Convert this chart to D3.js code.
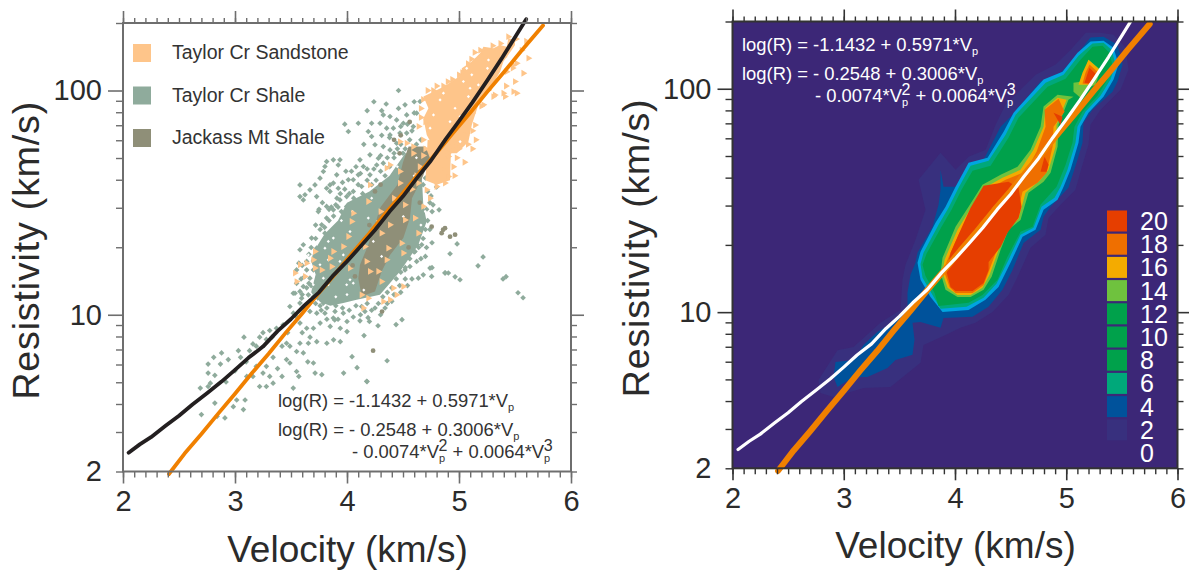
<!DOCTYPE html>
<html>
<head>
<meta charset="utf-8">
<script src="https://cdn.jsdelivr.net/npm/d3@7"></script>
<style>
  body { margin: 0; background: #fff; }
  text { font-family: "Liberation Sans", Arial, sans-serif; }
</style>
</head>
<body>
<svg id="chart" width="1189" height="570"></svg>
<script>
// all points are [velocity km/s, log10 resistivity]

const shalePoints = [
  // lower tail
  [2.81,.81],[2.88,.83],[2.76,.78],[2.87,.78],[2.76,.74],[2.82,.73],[2.94,.80],[3.03,.84],[3.05,.81],[3.13,.84],[3.19,.86],[3.28,.89],[3.31,.93],[3.37,.94],[3.43,.955],[3.58,.963],[3.64,.94],[3.70,.94],[3.76,.963],[3.55,.99],
  [3.46,.873],[3.42,.86],[3.49,.86],[3.58,.873],[3.655,.873],[3.73,.88],[3.82,.873],[3.88,.888],[3.94,.88],[3.55,.836],[3.61,.83],[3.49,.785],[3.34,.81],[3.28,.77],[3.19,.77],[3.25,.74],[3.16,.725],[3.105,.725],[3.31,.725],[3.34,.695],
  [3.42,.725],[3.55,.747],[3.57,.725],[3.715,.74],[3.775,.733],[3.97,.74],[4.176,.703],[3.70,.785],[3.52,.673],[3.09,.62],[3.015,.62],[3.075,.577],[2.91,.54],[2.84,.547],[2.70,.555],[2.82,.606],[2.985,.59],[3.22,.68],[3.28,.68],[2.78,.695],
  [2.76,.68],[2.69,.673],[3.33,.9],[3.25,.92],[3.22,.9],[3.16,.87],[3.08,.9],[3.6,.92],[3.67,.9],[3.47,.92],[3.0,.75],[2.92,.70],[3.1,.79],[3.38,.76],[3.46,.8],[3.65,.79],[3.85,.948],[3.89,.977],[3.94,.94],[4.0,.925],[3.73,1.007],[3.58,1.052],[3.52,1.096],[3.49,1.037],
  // upper scatter
  [4.518,1.936],[4.652,1.951],[4.533,1.891],[4.622,1.899],[4.443,1.869],[4.503,1.854],[4.324,1.891],[4.384,1.884],[4.101,1.854],[4.22,1.854],[4.295,1.854],[4.354,1.832],[4.414,1.832],[4.19,1.817],[4.22,1.795],[4.384,1.802],[4.473,1.81],[4.533,1.81],[4.592,1.839],[4.25,1.758],
  [4.324,1.75],[4.384,1.735],[4.205,1.713],[4.28,1.698],[4.116,1.691],[4.146,1.661],[4.265,1.668],[4.324,1.676],[4.443,1.765],[4.012,1.817],[3.937,1.691],[3.922,1.668],[3.878,1.691],[3.818,1.683],[3.803,1.661],[3.789,1.639],[3.759,1.609],[3.908,1.624],[3.848,1.579],[3.818,1.564],
  [3.878,1.587],[3.714,1.579],[3.669,1.557],[3.625,1.535],[3.58,1.527],[3.61,1.512],[3.729,1.527],[3.58,1.579],[3.848,1.55],[3.922,1.564],[4.012,1.602],[4.056,1.602],[4.101,1.624],[4.205,1.624],[3.937,1.512],[3.997,1.527],[4.056,1.55],[4.131,1.572],[4.175,1.527],[4.116,1.512],
  [3.818,1.483],[3.997,1.483],[4.46,2.0],[4.24,1.95],[4.18,1.91],[4.31,1.91],[4.35,1.94],[4.46,1.92],[4.6,1.95],[3.98,1.85],[4.45,1.74],[4.5,1.72],[4.6,1.9],[4.38,1.79],[4.31,1.8],[4.15,1.76],[3.99,1.64],[3.96,1.59],[3.91,1.52],[3.86,1.48],[3.78,1.5],[3.75,1.47],
  // edges of the main cloud
  [3.744,1.46],[3.878,1.468],[3.818,1.431],[3.684,1.342],[3.61,1.312],[3.58,1.29],[3.729,1.297],[3.64,1.238],[3.774,1.401],[3.803,1.364],[3.58,1.104],[3.536,1.096],[3.61,1.126],[3.669,1.163],[3.655,1.089],[3.595,1.074],[3.64,1.045],[3.521,1.007],[3.669,1.015],[3.789,1.052],
  [3.803,1.007],[3.893,1.015],[3.878,.985],[3.967,1.007],[4.056,.99],[4.131,1.037],[4.16,1.015],[4.607,1.282],[4.667,1.312],[4.622,1.238],[4.562,1.215],[4.518,1.2],[4.741,1.208],[4.756,1.171],[4.681,1.178],[4.875,1.186],[4.905,1.186],[4.637,1.163],[4.71,1.3],[4.74,1.38],
  [4.76,1.46],[4.71,1.47],[4.75,1.53],[4.8,1.57],[4.74,1.62],[4.68,1.58],[4.68,1.66],[4.62,1.76],[4.58,1.68],[4.47,1.13],[4.4,1.06],[4.34,1.03],[4.25,1.03],[4.52,1.16],[4.6,1.33],[3.55,1.2],[3.6,1.22],[3.55,1.14],[3.62,1.03],[3.77,1.02],
  [4.02,1.54],[4.06,1.52],[4.1,1.58],[4.14,1.54],[4.18,1.6],[4.22,1.58],[4.26,1.6],[4.3,1.64],[4.34,1.62],[4.38,1.66],[4.42,1.7],[4.44,1.64],[4.48,1.76],[4.52,1.74],[4.56,1.78],[4.6,1.74],[4.64,1.72],[4.66,1.78],[4.58,1.82],[4.54,1.85],
  [4.48,1.84],[4.42,1.72],[4.36,1.7],[4.3,1.71],[4.24,1.65],[4.18,1.65],[4.12,1.63],[4.08,1.66],[4.04,1.64],[3.98,1.56],[3.94,1.54],[3.9,1.49],[3.95,1.46],[3.88,1.44],[3.84,1.42],[3.8,1.39],[3.76,1.38],[3.72,1.34],[3.68,1.3],[3.66,1.27],
  [3.7,1.24],[3.64,1.2],[3.62,1.17],[3.68,1.13],[3.64,1.12],[3.6,1.09],[3.7,1.08],[3.72,1.05],[3.76,1.04],[3.82,1.03],[3.7,1.2],[3.74,1.2],[3.66,1.14],[3.59,1.16],[3.57,1.23],[3.72,1.4],[3.84,1.47],[3.92,1.48],
  [3.9,1.04],[3.96,1.03],[4.02,1.02],[4.08,1.04],[4.12,1.0],[4.18,1.05],[4.22,1.02],[4.28,1.05],[4.32,1.08],[4.36,1.1],[4.4,1.12],[4.44,1.16],[4.48,1.19],[4.52,1.21],[4.56,1.25],[4.6,1.28],[4.64,1.3],[4.68,1.34],[4.7,1.38],[4.72,1.42],
  [4.74,1.5],[4.72,1.55],[4.7,1.61],[4.72,1.66],[4.7,1.7],[4.66,1.25],[4.7,1.26],[4.58,1.16],[4.54,1.13],[4.48,1.1],[4.42,1.09],[4.36,1.05],[4.3,1.0],[4.2,.97],[4.0,.97],[3.92,.98],[3.82,.98],
  // outliers on the right and below
  [5.215,1.258],[5.17,1.218],[4.876,1.187],[4.965,1.169],[5.009,1.156],[5.393,1.16],[5.42,1.17],[5.527,1.098],[5.572,1.076],[4.759,1.21],[4.92,1.272],[4.983,1.316],[4.759,1.321],[4.358,.795],[4.179,.702],[4.277,.951],[4.116,.973],[4.188,.987],[4.438,.956],[4.491,.978],
  [4.152,.907],[4.09,.764],[4.045,.813],[4.822,1.468],[4.768,1.49],[4.625,1.312]
];
const shaleCore = [[3.74,1.06],[3.85,1.04],[3.967,1.052],[4.086,1.067],[4.294,1.089],[4.473,1.193],[4.637,1.312],[4.711,1.416],[4.681,1.49],[4.66,1.70],[4.52,1.72],[4.38,1.62],[4.2,1.55],[4.0,1.5],[3.92,1.42],[3.8,1.36],[3.7,1.28],[3.68,1.24],[3.72,1.18],[3.68,1.1]];

const sandPoints = [
  [3.536,1.186],[3.58,1.223],[3.64,1.23],[3.699,1.245],[3.714,1.282],[3.625,1.171],[3.55,1.148],[3.714,1.208],[3.774,1.2],[3.848,1.252],[3.863,1.215],[3.967,1.304],[4.012,1.349],[4.056,1.453],[4.042,1.416],[3.878,1.282],[4.175,1.238],[4.161,1.304],[4.309,1.364],[4.384,1.401],
  [4.607,1.431],[4.637,1.364],[4.518,1.49],[4.681,1.483],[4.488,1.319],[4.503,1.275],[4.369,1.297],[4.354,1.245],[4.28,1.193],[4.309,1.148],[4.414,1.119],[4.503,1.126],[4.443,1.089],[4.324,1.059],[4.384,1.067],[4.19,1.074],[4.146,1.03],[4.131,1.089],[4.518,1.423],[4.28,1.408],
  [4.027,1.208],[4.205,1.193],[4.473,1.772],[4.533,1.765],[4.384,1.668],[4.354,1.654],[4.473,1.639],[4.592,1.72],[4.592,1.75],[4.205,1.579],[4.19,1.505],[4.473,1.587],[4.637,1.587],[4.711,1.557],[4.8,1.572],[4.741,1.52],[4.875,1.587],[4.905,1.616],[4.905,1.706],[4.86,1.765],
  [5.397,1.988],[5.486,1.995],[5.516,1.988],[5.307,1.973],[5.218,1.936],[5.144,1.846],[5.575,2.077],[5.62,2.144],[5.516,2.121],[5.426,2.084],[5.486,2.114],[5.411,1.973],[5.263,2.002],[4.68,1.96],[4.77,2.0],[4.86,2.02],[4.94,2.05],[5.03,2.08],[5.11,2.14],[5.19,2.18],
  [5.3,2.2],[5.37,2.21],[5.44,2.24],[5.51,2.23],[5.08,1.76],[5.12,1.82],[5.2,1.93],[4.7,1.86],[4.66,1.92],[4.98,1.7],[4.9,1.72],[4.8,1.7],[5.0,1.74],[5.06,1.8],[4.65,1.66],[4.68,1.71],[4.62,1.62],[4.58,1.56],[4.42,1.52],[4.3,1.46],
  [5.12,1.9],[5.18,1.98],[5.25,2.03],[5.33,2.1],[5.4,2.15],[5.46,2.2],[5.15,1.78],[5.12,1.74],[5.05,1.68],[4.95,1.66],[4.85,1.65],[4.96,1.62],[4.98,1.76],[5.0,2.07],[4.9,2.04],[4.8,2.02],[4.72,2.0],[4.66,1.88],[4.64,1.84],[4.68,1.78],
  [4.7,1.74],[5.56,2.18],[5.6,2.22],[5.48,2.1],[5.32,1.98],[5.42,2.02],[5.5,2.04],[5.14,2.17],[5.08,2.12],[5.22,2.15]
];
const sandCore = [
  [[4.682,1.973],[4.772,1.995],[4.861,2.017],[4.935,2.04],[5.025,2.07],[5.025,2.099],[5.114,2.129],[5.188,2.166],[5.218,2.195],[5.307,2.188],[5.367,2.203],[5.426,2.195],[5.441,2.233],[5.5,2.225],[5.5,2.203],[5.471,2.181],[5.397,2.129],[5.367,2.084],[5.278,2.01],[5.173,1.936],[5.114,1.846],[5.084,1.772],[4.98,1.72],[4.801,1.72],[4.712,1.802],[4.682,1.876],[4.727,1.921]],
  [[4.72,1.78],[4.93,1.76],[4.92,1.6],[4.8,1.58],[4.7,1.6]]
];

const jackassPoints = [
  [4.858,1.379],[4.92,1.348],[4.965,1.357],[4.313,1.014],[4.233,.84],[4.845,1.364],[4.875,1.386],[4.756,1.393],[4.071,1.171],[4.05,1.22],[4.1,1.3],[4.2,1.4],[4.65,1.5],[4.55,1.3],[4.48,1.8],[4.42,1.78],[4.56,1.86],[4.47,1.72],[4.3,1.58],[4.25,1.55]
];
const jackassCore = [[4.131,1.082],[4.25,1.104],[4.309,1.193],[4.384,1.267],[4.503,1.342],[4.562,1.431],[4.58,1.52],[4.68,1.62],[4.74,1.70],[4.70,1.75],[4.55,1.75],[4.5,1.68],[4.45,1.58],[4.3,1.48],[4.19,1.312],[4.116,1.223],[4.101,1.163]];

// little holes in the solid parts of the cloud
const gapPoints = [
  [5.263,2.136],[5.254,2.099],[5.084,1.973],[5.069,2.099],[4.831,1.958],[4.861,1.988],[4.965,1.921],[4.92,1.861],[5.099,2.01],[5.01,1.884],[5.173,2.025],[5.039,2.04],[5.114,2.07],[4.772,1.891],[4.742,1.832],[5.01,1.772],
  [4.19,1.431],[4.027,1.371],[3.878,1.342],[3.833,1.327],[4.027,1.156],[4.056,1.141],[3.937,1.238],[3.833,1.245],[3.967,1.267],[4.116,1.297],[4.235,1.327],[4.354,1.445],[4.503,1.438],[4.309,1.26],[3.997,1.134],[3.803,1.297],[3.893,1.178],[3.759,1.223],[3.789,1.163],[3.833,1.134],[3.744,1.059],[3.669,1.193],[3.699,1.134],[3.655,1.267],
  [4.15,1.56],[4.05,1.46],[4.22,1.52],[3.95,1.42],[4.45,1.66],[4.6,1.62],[4.62,1.7],[4.7,1.46],[4.66,1.4],[3.9,1.08],[4.0,1.09],[4.15,1.11]
];

const cubicFit = [[2.05,.385],[2.15,.422],[2.25,.454],[2.38,.505],[2.5,.55],[2.62,.6],[2.75,.65],[2.88,.702],[3.0,.754],[3.12,.808],[3.25,.858],[3.38,.927],[3.5,.981],[3.62,1.042],[3.75,1.1],[3.88,1.177],[4.0,1.238],[4.12,1.304],[4.25,1.378],[4.38,1.46],[4.5,1.528],[4.62,1.607],[4.75,1.688],[4.88,1.782],[5.0,1.863],[5.12,1.947],[5.25,2.043],[5.38,2.142],[5.5,2.238],[5.6,2.318]];
const linearFit = [[2.41,.29],[2.55,.381],[2.7,.468],[2.85,.559],[3.0,.648],[3.15,.739],[3.3,.826],[3.45,.918],[3.6,1.006],[3.75,1.098],[3.9,1.185],[4.05,1.277],[4.2,1.364],[4.35,1.456],[4.5,1.543],[4.65,1.635],[4.8,1.722],[4.95,1.813],[5.1,1.901],[5.25,1.993],[5.4,2.081],[5.55,2.173],[5.75,2.29]];

// density contours, outermost band first
const contourLevels = ["c2","c4","c5","c6","c8","c14","c16","c18","c20"];
const contourColors = ["#38307e","#00529b","#00a5e0","#00a87a","#00a14b","#6fc23e","#f4ab00","#ef6f00","#e63e00"];
const c2 = [[[5.308,2.251],[5.425,2.242],[5.533,2.184],[5.56,2.085],[5.488,1.995],[5.308,1.906],[5.218,1.839],[5.2,1.749],[5.146,1.66],[5.083,1.548],[4.949,1.481],[4.841,1.422],[4.814,1.346],[4.679,1.288],[4.571,1.167],[4.481,1.077],[4.337,1.001],[4.184,.952],[4.049,.93],[3.915,.898],[3.717,.853],[3.69,.773],[3.42,.665],[3.178,.66],[2.908,.62],[2.791,.638],[2.773,.696],[2.944,.83],[3.088,.844],[3.33,.952],[3.51,1.01],[3.528,1.145],[3.555,1.212],[3.645,1.324],[3.735,1.458],[3.672,1.593],[3.87,1.714],[4.005,1.637],[4.122,1.696],[4.275,1.727],[4.365,1.839],[4.455,1.929],[4.725,2.063],[4.905,2.108],[5.04,2.175],[5.175,2.251]]];
const c4 = [[[5.218,2.229],[5.335,2.233],[5.461,2.197],[5.506,2.108],[5.461,2.032],[5.416,1.987],[5.236,1.906],[5.155,1.848],[5.146,1.758],[5.101,1.682],[5.02,1.557],[4.859,1.472],[4.796,1.427],[4.769,1.369],[4.616,1.31],[4.517,1.189],[4.427,1.1],[4.301,1.024],[4.157,.979],[3.897,.974],[3.87,.93],[3.69,.956],[3.618,.952],[3.636,.876],[3.618,.809],[3.465,.786],[3.393,.75],[3.213,.71],[3.088,.71],[2.944,.665],[2.908,.71],[2.926,.777],[3.088,.786],[3.178,.853],[3.303,.912],[3.447,.956],[3.573,.997],[3.573,1.087],[3.6,1.167],[3.645,1.221],[3.663,1.266],[3.798,1.382],[3.852,1.481],[3.87,1.548],[3.87,1.637],[3.897,1.561],[4.005,1.561],[4.14,1.669],[4.257,1.682],[4.41,1.83],[4.5,1.875],[4.769,2.032],[4.949,2.072],[5.083,2.144]]];
const c5 = [[[5.218,2.211],[5.335,2.215],[5.425,2.184],[5.47,2.108],[5.425,2.041],[5.335,1.964],[5.2,1.893],[5.128,1.83],[5.11,1.758],[5.038,1.637],[4.976,1.561],[4.922,1.503],[4.796,1.458],[4.724,1.369],[4.607,1.337],[4.499,1.221],[4.391,1.113],[4.274,1.055],[4.122,1.01],[3.888,1.001],[3.78,1.068],[3.69,1.145],[3.663,1.221],[3.69,1.27],[3.825,1.4],[3.915,1.472],[4.005,1.561],[4.122,1.669],[4.293,1.691],[4.437,1.807],[4.527,1.893],[4.796,2.041],[4.967,2.076],[5.101,2.161]]];
const c6 = [[[5.236,2.202],[5.335,2.206],[5.407,2.175],[5.443,2.108],[5.398,2.041],[5.308,1.969],[5.173,1.897],[5.101,1.83],[5.083,1.758],[5.011,1.637],[4.949,1.561],[4.895,1.512],[4.778,1.472],[4.706,1.378],[4.589,1.346],[4.481,1.234],[4.373,1.127],[4.257,1.064],[4.104,1.024],[3.87,1.015],[3.798,1.077],[3.708,1.154],[3.69,1.216],[3.717,1.266],[3.852,1.391],[3.942,1.467],[4.032,1.557],[4.14,1.655],[4.302,1.678],[4.455,1.794],[4.545,1.884],[4.814,2.027],[4.976,2.063],[5.11,2.148]]];
const c8 = [[[5.236,2.188],[5.326,2.193],[5.389,2.161],[5.416,2.103],[5.371,2.041],[5.281,1.969],[5.146,1.897],[5.074,1.83],[5.056,1.758],[4.994,1.66],[4.913,1.561],[4.769,1.481],[4.697,1.382],[4.589,1.36],[4.472,1.248],[4.382,1.145],[4.247,1.077],[4.122,1.042],[3.852,1.028],[3.816,1.086],[3.735,1.162],[3.708,1.212],[3.744,1.261],[3.879,1.382],[3.969,1.458],[4.059,1.548],[4.158,1.633],[4.32,1.655],[4.481,1.781],[4.571,1.87],[4.832,2.009],[4.994,2.045],[5.128,2.13]]];
const c14 = [
  [[4.023,1.068],[4.14,1.068],[4.257,1.1],[4.329,1.158],[4.41,1.279],[4.481,1.369],[4.589,1.413],[4.661,1.534],[4.796,1.584],[4.859,1.624],[4.922,1.74],[4.931,1.839],[5.02,1.951],[5.065,1.964],[4.922,1.973],[4.796,1.92],[4.769,1.83],[4.679,1.727],[4.562,1.651],[4.41,1.615],[4.247,1.57],[4.122,1.472],[4.005,1.382],[3.888,1.243],[3.87,1.176],[3.915,1.1]],
  [[5.2,2.13],[5.308,2.085],[5.263,2.018],[5.2,2.005],[5.128,1.96],[5.065,1.987],[5.065,2.027],[5.146,2.032],[5.173,2.076]]
];
const c16 = [
  [[4.023,1.077],[4.14,1.077],[4.247,1.109],[4.311,1.167],[4.392,1.279],[4.463,1.369],[4.571,1.418],[4.634,1.534],[4.769,1.593],[4.841,1.637],[4.904,1.74],[4.913,1.839],[5.003,1.951],[4.922,1.96],[4.814,1.915],[4.796,1.83],[4.706,1.727],[4.589,1.637],[4.427,1.602],[4.266,1.557],[4.14,1.463],[4.023,1.369],[3.906,1.234],[3.888,1.176],[3.933,1.109]],
  [[5.2,2.13],[5.299,2.085],[5.236,2.018],[5.11,2.018],[5.146,2.072]]
];
const c18 = [
  [[4.005,1.086],[4.158,1.086],[4.257,1.122],[4.302,1.18],[4.383,1.288],[4.455,1.378],[4.553,1.427],[4.607,1.539],[4.742,1.579],[4.823,1.624],[4.877,1.74],[4.886,1.83],[4.985,1.897],[4.931,1.955],[4.805,1.906],[4.814,1.83],[4.733,1.718],[4.634,1.628],[4.455,1.593],[4.284,1.548],[4.158,1.454],[4.041,1.355],[3.924,1.225],[3.906,1.176],[3.951,1.113]],
  [[5.209,2.108],[5.281,2.076],[5.218,2.018],[5.146,2.023],[5.173,2.072]]
];
const c20 = [
  [[4.005,1.095],[4.158,1.095],[4.257,1.131],[4.302,1.189],[4.302,1.225],[4.41,1.292],[4.472,1.355],[4.571,1.422],[4.598,1.472],[4.571,1.557],[4.481,1.584],[4.257,1.566],[4.14,1.467],[4.023,1.337],[3.96,1.266],[3.924,1.18],[3.96,1.113]],
  [[4.805,1.696],[4.841,1.66],[4.823,1.628],[4.769,1.628]],
  [[4.886,1.893],[4.967,1.875],[4.949,1.839],[4.922,1.861]],
  [[5.209,2.094],[5.263,2.067],[5.218,2.023],[5.164,2.027],[5.191,2.067]]
];
const contours = {c2, c4, c5, c6, c8, c14, c16, c18, c20};

const legendNames = ["Taylor Cr Sandstone","Taylor Cr Shale","Jackass Mt Shale"];
const legendColors = ["#fec58a","#8fab9c","#8f8f78"];
const scaleLabels = [20,18,16,14,12,10,8,6,4,2,0];
const scaleColors = ["#e63e00","#ef6f00","#f4ab00","#6fc23e","#00a14b","#00a14b","#00a14b","#00a87a","#00529b","#38307e",null];

const xMajor = [2,3,4,5,6];
const xMinor = d3.range(2,6.01,0.1);
const yLabelled = [2,10,100];
const yMajor = [10,100];
const yMinor = [2,3,4,5,6,7,8,9,20,30,40,50,60,70,80,90,200];

const eqLinear = [["log(R) = -1.1432 + 0.5971*V",0],["p",1]];
const eqCubicA = [["log(R) = - 0.2548 + 0.3006*V",0],["p",1]];
const eqCubicB = [["- 0.0074*V",0],["p",1],["2",-1],[" + 0.0064*V",0],["p",1],["3",-1]];

const svg = d3.select("#chart");

function drawEq(g, segs, px, py, color) {
  const t = g.append("text").attr("x",px).attr("y",py).attr("fill",color).attr("font-size",18.4);
  let level = 0;
  segs.forEach(([s,l],i) => {
    const shift = {0:0, 1:4, "-1":-7}[l];
    const prev = i ? segs[i-1][1] : 0;
    t.append("tspan")
      .attr("dy", shift-level)
      .attr("dx", (l===-1 && prev===1) ? -6.5 : 0)
      .attr("font-size", l===0 ? 18.4 : (l===1 ? 11 : 16))
      .text(s);
    level = shift;
  });
}

function drawFrame(g, x, y, color, sz) {
  const [x0,x1] = x.range(), [y0,y1] = y.range();
  const style = (a,w) => a.call(s => s.select(".domain").remove())
    .call(s => s.selectAll("line").attr("stroke",color).attr("stroke-width",w));

  g.append("g").attr("transform",`translate(0,${y0})`).call(d3.axisBottom(x).tickValues(xMinor).tickSize(6).tickFormat("")).call(a=>style(a,1.4));
  g.append("g").attr("transform",`translate(0,${y1})`).call(d3.axisTop(x).tickValues(xMinor).tickSize(5).tickFormat("")).call(a=>style(a,1.4));
  g.append("g").attr("transform",`translate(0,${y0})`).call(d3.axisBottom(x).tickValues(xMajor).tickSize(12).tickFormat("")).call(a=>style(a,1.6));
  g.append("g").attr("transform",`translate(0,${y1})`).call(d3.axisTop(x).tickValues(xMajor).tickSize(12).tickFormat("")).call(a=>style(a,1.6));

  g.append("g").attr("transform",`translate(${x0},0)`).call(d3.axisLeft(y).tickValues(yMinor).tickSize(7).tickFormat("")).call(a=>style(a,1.4));
  g.append("g").attr("transform",`translate(${x1},0)`).call(d3.axisRight(y).tickValues(yMinor).tickSize(6).tickFormat("")).call(a=>style(a,1.4));
  g.append("g").attr("transform",`translate(${x0},0)`).call(d3.axisLeft(y).tickValues(yMajor).tickSize(15).tickFormat("")).call(a=>style(a,1.6));
  g.append("g").attr("transform",`translate(${x1},0)`).call(d3.axisRight(y).tickValues(yMajor).tickSize(13).tickFormat("")).call(a=>style(a,1.6));

  g.append("rect").attr("x",x0).attr("y",y1).attr("width",x1-x0).attr("height",y0-y1)
    .attr("fill","none").attr("stroke",color).attr("stroke-width",2);

  // tick labels
  g.append("g").attr("transform",`translate(0,${y0})`)
    .call(d3.axisBottom(x).tickValues(xMajor).tickSize(0).tickPadding(19).tickFormat(d3.format("d")))
    .call(a=>a.select(".domain").remove())
    .call(a=>a.selectAll("text").attr("font-size",sz).attr("font-family","Liberation Sans").attr("fill","#2b2b2b"));
  g.append("g").attr("transform",`translate(${x0},0)`)
    .call(d3.axisLeft(y).tickValues(yLabelled).tickSize(0).tickPadding(21).tickFormat(d3.format("d")))
    .call(a=>a.select(".domain").remove())
    .call(a=>a.selectAll("text").attr("font-size",sz).attr("font-family","Liberation Sans").attr("fill","#2b2b2b"));
  // axis titles
  g.append("text").attr("x",(x0+x1)/2+0.5).attr("y",y0+90).attr("text-anchor","middle")
    .attr("font-size",37).attr("fill","#2b2b2b").text("Velocity (km/s)");
  g.append("text").attr("transform",`translate(${x0-84},${(y0+y1)/2+3}) rotate(-90)`).attr("text-anchor","middle")
    .attr("font-size",37.5).attr("letter-spacing",0.85).attr("fill","#2b2b2b").text("Resistivity (km/s)");
}

function fitLine(g, x, y, pts, color, w) {
  const line = d3.line().x(d=>x(d[0])).y(d=>y(Math.pow(10,d[1])));
  g.append("path").attr("d",line(pts)).attr("fill","none").attr("stroke",color)
    .attr("stroke-width",w).attr("stroke-linecap","round").attr("stroke-linejoin","round");
}

// left panel
const xL = d3.scaleLinear([2,6],[123,571]);
const yL = d3.scaleLog([2,200],[471.5,23]);
const left = svg.append("g");
const toPath = (x,y) => d3.line().x(d=>x(d[0])).y(d=>y(Math.pow(10,d[1])));
const lineL = toPath(xL,yL);

function polys(list, color) {
  left.append("g").selectAll("path").data(list).join("path").attr("d",d=>lineL(d)+"Z").attr("fill",color);
}
function marks(pts, color, symbolType, size, rot) {
  left.append("g").selectAll("path").data(pts).join("path")
    .attr("d",d3.symbol().type(symbolType).size(size))
    .attr("transform",d=>`translate(${xL(d[0])},${yL(Math.pow(10,d[1]))}) rotate(${rot})`)
    .attr("fill",color);
}
marks(shalePoints,legendColors[1],d3.symbolSquare,16,45);
polys([shaleCore],legendColors[1]);
polys(sandCore,legendColors[0]);
polys([jackassCore],legendColors[2]);
marks(gapPoints,"#fff",d3.symbolSquare,5,45);
marks(sandPoints,legendColors[0],d3.symbolTriangle,20,90);
marks(jackassPoints,legendColors[2],d3.symbolCircle,18,0);

fitLine(left,xL,yL,linearFit,"#f08000",3.8);
fitLine(left,xL,yL,cubicFit,"#231f20",3.8);
drawFrame(left,xL,yL,"#6e6e6e",29);

legendNames.forEach((n,i) => {
  const py = [44,86.5,129][i];
  left.append("rect").attr("x",133).attr("y",py).attr("width",18).attr("height",18).attr("fill",legendColors[i]);
  left.append("text").attr("x",172).attr("y",py+15).attr("font-size",19.5).attr("fill","#333").text(n);
});
drawEq(left,eqLinear,278,407,"#333");
drawEq(left,eqCubicA,278,436,"#333");
drawEq(left,eqCubicB,352,458,"#333");

// right panel
const xR = d3.scaleLinear([2,6],[732.5,1177.5]);
const yR = d3.scaleLog([2,200],[468.3,21.5]);
const right = svg.append("g");
const lineR = toPath(xR,yR);
right.append("rect").attr("x",xR(2)).attr("y",yR(200)).attr("width",xR(6)-xR(2)).attr("height",yR(2)-yR(200)).attr("fill","#3c2777");
contourLevels.forEach((k,i) => {
  right.append("g").selectAll("path").data(contours[k]).join("path")
    .attr("d",d=>lineR(d)+"Z").attr("fill",contourColors[i]);
});
fitLine(right,xR,yR,linearFit,"#f08000",6);
fitLine(right,xR,yR,cubicFit,"#ffffff",3.2);
drawFrame(right,xR,yR,"#333",29);
drawEq(right,eqLinear,742,51,"#fff");
drawEq(right,eqCubicA,742,80,"#fff");
drawEq(right,eqCubicB,815,102,"#fff");

scaleLabels.forEach((v,i) => {
  const py = d3.scaleLinear([0,10],[221,453])(i);
  if (scaleColors[i]) right.append("rect").attr("x",1107).attr("y",py-10.5).attr("width",20).attr("height",21).attr("fill",scaleColors[i]);
  right.append("text").attr("x",1140).attr("y",py+9).attr("font-size",25).attr("fill","#fff").text(v);
});
</script>
</body>
</html>
